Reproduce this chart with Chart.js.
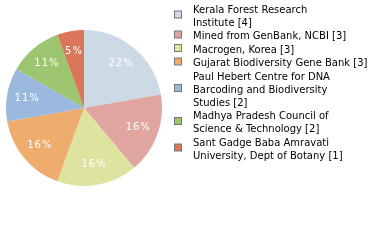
<!DOCTYPE html>
<html>
<head>
<meta charset="utf-8">
<script src="https://cdn.jsdelivr.net/npm/chart.js@4.4.1/dist/chart.umd.min.js"></script>
<style>
  html, body { margin: 0; padding: 0; background: #fff; }
  #wrap { width: 380px; height: 240px; position: relative; }
</style>
</head>
<body>
<div id="wrap"><canvas id="pieChart"></canvas></div>
<script>
// dữ liệu
const institutions = [
  ['Kerala Forest Research', 'Institute'],
  ['Mined from GenBank, NCBI'],
  ['Macrogen, Korea'],
  ['Gujarat Biodiversity Gene Bank'],
  ['Paul Hebert Centre for DNA', 'Barcoding and Biodiversity', 'Studies'],
  ['Madhya Pradesh Council of', 'Science & Technology'],
  ['Sant Gadge Baba Amravati', 'University, Dept of Botany']
];
const counts = [4, 3, 3, 3, 2, 2, 1];
const colors = ['#cddae6', '#e0a59f', '#dfe3a0', '#eead6e', '#9bb9de', '#9dc46f', '#da7659'];

const total = counts.reduce((a, b) => a + b, 0);

// nhãn phần trăm trên lát
const percentLabels = {
  id: 'percentLabels',
  afterDatasetsDraw(chart) {
    const ctx = chart.ctx;
    const meta = chart.getDatasetMeta(0);
    ctx.save();
    ctx.font = '10px "DejaVu Sans"';
    ctx.fillStyle = '#ffffff';
    ctx.textAlign = 'center';
    ctx.textBaseline = 'middle';
    if ('letterSpacing' in ctx) ctx.letterSpacing = '1px';
    meta.data.forEach((arc, i) => {
      const p = arc.getProps(['x', 'y', 'startAngle', 'endAngle', 'outerRadius'], true);
      const mid = (p.startAngle + p.endAngle) / 2;
      const r = p.outerRadius * 0.74;
      const pct = Math.floor(counts[i] / total * 100) + '%';
      ctx.fillText(pct, p.x + Math.cos(mid) * r, p.y + Math.sin(mid) * r);
    });
    ctx.restore();
  }
};

// chú thích bên phải
const sideLegend = {
  id: 'sideLegend',
  afterDraw(chart) {
    const ctx = chart.ctx;
    ctx.save();
    ctx.font = '10px "DejaVu Sans"';
    ctx.textBaseline = 'middle';
    ctx.textAlign = 'left';
    let line = 0;
    institutions.forEach((lines, i) => {
      const txt = lines.slice();
      txt[txt.length - 1] += ' [' + counts[i] + ']';
      const y0 = 10 + line * 13 + i * 0.5;
      const boxY = y0 + (txt.length - 1) * 13 / 2 - 2;
      ctx.fillStyle = colors[i];
      ctx.fillRect(174.5, boxY - 3.5, 7, 7);
      ctx.strokeStyle = '#777777';
      ctx.lineWidth = 1;
      ctx.strokeRect(174.5, boxY - 3.5, 7, 7);
      ctx.fillStyle = '#000000';
      txt.forEach((t, k) => ctx.fillText(t, 193, y0 + k * 13));
      line += txt.length;
    });
    ctx.restore();
  }
};

new Chart(document.getElementById('pieChart'), {
  type: 'pie',
  data: {
    labels: institutions.map(l => l.join(' ')),
    datasets: [{
      data: counts,
      backgroundColor: colors,
      borderWidth: 0
    }]
  },
  options: {
    responsive: true,
    maintainAspectRatio: false,
    animation: false,
    layout: { padding: { left: 6, top: 30, right: 218, bottom: 54 } },
    plugins: {
      legend: { display: false },
      tooltip: { enabled: false }
    }
  },
  plugins: [percentLabels, sideLegend]
});
</script>
</body>
</html>
